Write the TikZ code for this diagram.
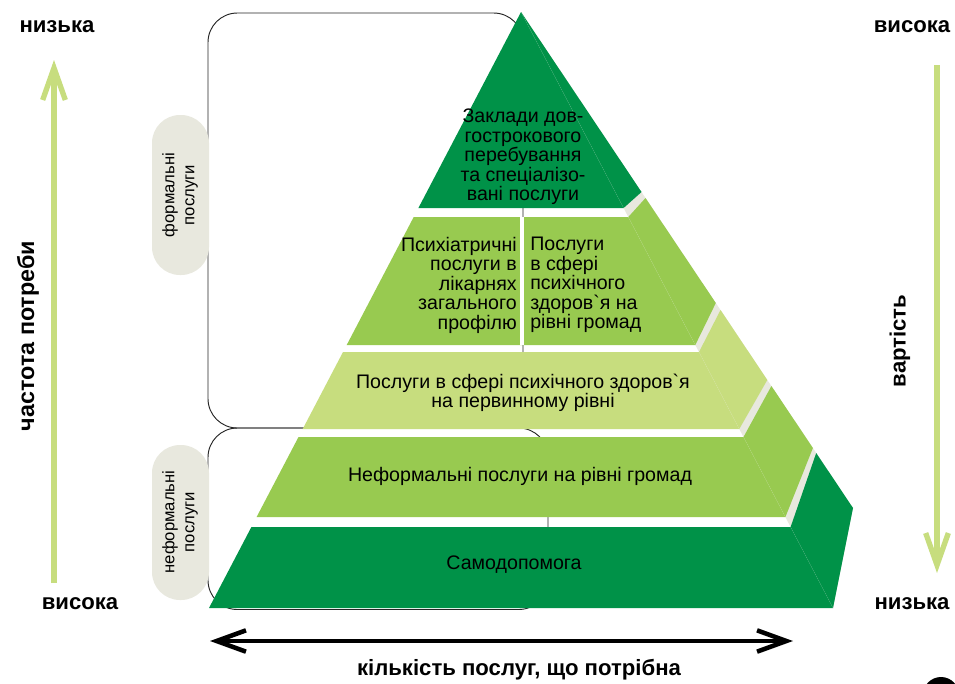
\documentclass[tikz,border=0pt]{standalone}
\usepackage{fontspec}
\newfontfamily\pf{Liberation Sans}
\usetikzlibrary{arrows.meta}
\definecolor{dg}{RGB}{0,146,72}
\definecolor{mg}{RGB}{152,202,80}
\definecolor{lg}{RGB}{199,221,126}
\definecolor{bge}{RGB}{232,232,222}
\definecolor{arrc}{RGB}{199,221,126}
\begin{document}
\begin{tikzpicture}[x=0.75pt,y=-0.75pt,
  lbl/.style={font=\pf\bfseries\fontsize{16.6}{19}\selectfont, inner sep=0},
  tx/.style={font=\pf\fontsize{14.7}{14.6}\selectfont, inner sep=0, text=black},
  pilltx/.style={font=\pf\fontsize{12.5}{15}\selectfont, inner sep=0, align=center, rotate=90},
  brk/.style={draw=black!85, line width=0.7pt, rounded corners=22pt},
  pill/.style={fill=bge, draw=none, rounded corners=21pt},
  edge/.style={draw=white, opacity=0.12, line width=0.3pt},
  varr/.style={draw=arrc, line width=4pt, -{Straight Barb[length=24pt,width=17pt,line width=4pt]}},
  harr/.style={draw=black, line width=3.4pt, {Straight Barb[length=22pt,width=16pt,line width=3.4pt]}-{Straight Barb[length=22pt,width=16pt,line width=3.4pt]}}
]
\useasboundingbox (0,0) rectangle (955,683);
\fill[white] (0,0) rectangle (955,683);

% brackets
\draw[brk] (208,428) rectangle (523,13);
\draw[brk] (208,428) rectangle (548,609.5);

% pills
\fill[pill] (152,115) rectangle (209,275);
\fill[pill] (152,445) rectangle (209,600);
\node[pilltx] (pf) at (180,195) {формальні\\послуги};
\node[pilltx] (pn) at (180,522) {неформальні\\послуги};

% side background
\fill[bge] (521,12) -- (853,508) -- (833,608) -- cycle;

% tier 1
\fill[dg] (521,12) -- (418.4,208) -- (623.6,208) -- cycle;
\fill[dg] (521,12) -- (641.5,192) -- (623.6,208) -- cycle;
% tier 2
\fill[mg] (413.7,217) -- (628.3,217) -- (695.3,345) -- (346.7,345) -- cycle;
\fill[mg] (628.3,217) -- (645.5,198) -- (715.8,303) -- (695.3,345) -- cycle;
% tier 3
\fill[lg] (343,352) -- (699,352) -- (739.3,429) -- (302.7,429) -- cycle;
\fill[lg] (699,352) -- (720.5,310) -- (767.3,380) -- (739.3,429) -- cycle;
% tier 4
\fill[mg] (298.5,437) -- (743.5,437) -- (785.4,517) -- (256.6,517) -- cycle;
\fill[mg] (743.5,437) -- (771.4,386) -- (812.9,448) -- (785.4,517) -- cycle;
% tier 5
\fill[dg] (251.4,527) -- (790.6,527) -- (833,608) -- (209,608) -- cycle;
\fill[dg] (790.6,527) -- (816.2,453) -- (853,508) -- (833,608) -- cycle;

% front/side edges
\draw[edge] (521,12) -- (623.6,208);
\draw[edge] (628.3,217) -- (695.3,345);
\draw[edge] (699,352) -- (739.3,429);
\draw[edge] (743.5,437) -- (785.4,517);
\draw[edge] (790.6,527) -- (833,608);

% tier 2 divider
\draw[white, line width=3.5pt] (522,217) -- (522,345);

% texts
\node[tx, align=center] (t1) at (523,157) {Заклади дов-\\гострокового\\перебування\\та спеціалізо-\\вані послуги};
\node[tx, align=right, anchor=east] (t2l) at (517,285) {Психіатричні\\послуги в\\лікарнях\\загального\\профілю};
\node[tx, align=left, anchor=west] (t2r) at (530,285) {Послуги\\в сфері\\психічного\\здоров`я на\\рівні громад};
\node[tx, align=center] (t3) at (523,393) {Послуги в сфері психічного здоров`я\\на первинному рівні};
\node[tx] (t4) at (520,476) {Неформальні послуги на рівні громад};
\node[tx] (t5) at (514,565) {Самодопомога};

% side labels
\node[lbl] (ln1) at (57,27) {низька};
\node[lbl] (lv1) at (80,604) {висока};
\node[lbl] (rv1) at (912,27) {висока};
\node[lbl] (rn1) at (912,604) {низька};
\node[lbl, font=\pf\bfseries\fontsize{17.5}{19}\selectfont, rotate=90] (lfreq) at (28,336) {частота потреби};
\node[lbl, rotate=90] (rcost) at (900,341) {вартість};
\node[lbl] (bqty) at (519,670) {кількість послуг, що потрібна};

% arrows
\coordinate (la1) at (54,583);
\coordinate (la2) at (54,60);
\coordinate (ra1) at (937,65);
\coordinate (ra2) at (937,573);
\coordinate (ba1) at (210,641);
\coordinate (ba2) at (793,641);
\draw[varr] (la1) -- (la2);
\draw[varr] (ra1) -- (ra2);
\draw[harr] (ba1) -- (ba2);

% partial circle
\fill[black] (941,695) circle (18);
\end{tikzpicture}
\end{document}
